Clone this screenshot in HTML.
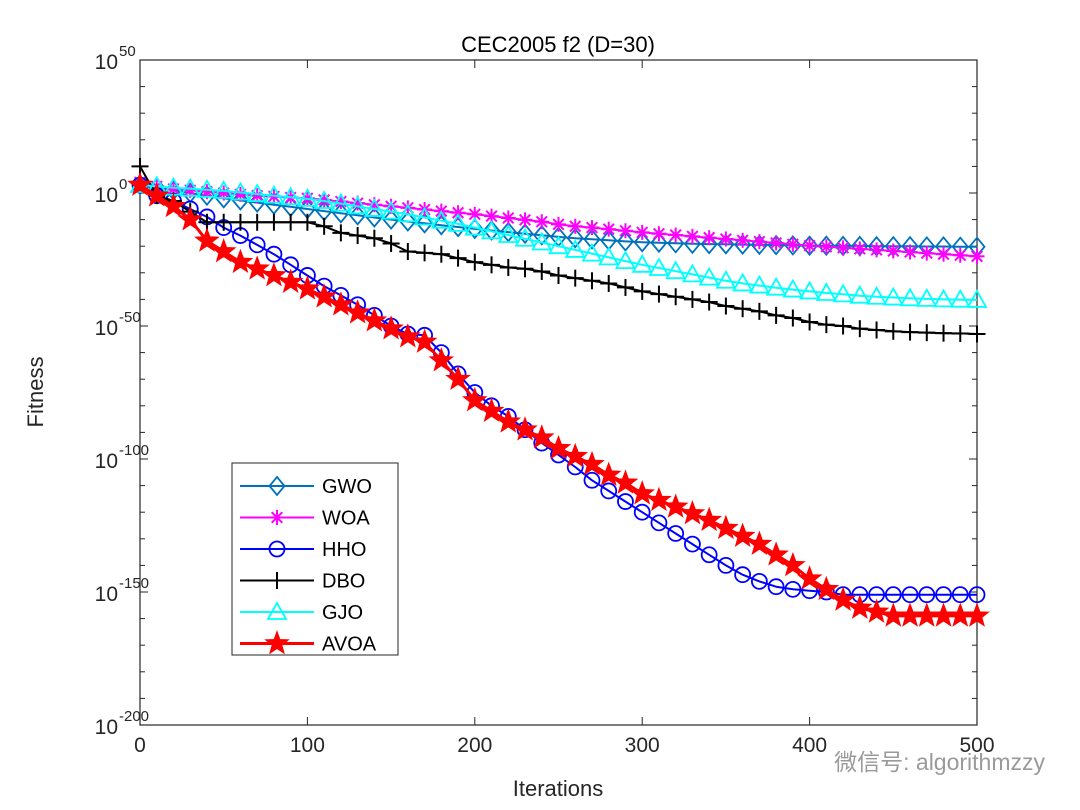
<!DOCTYPE html>
<html><head><meta charset="utf-8"><style>
html,body{margin:0;padding:0;background:#fff;}
svg{display:block;font-family:"Liberation Sans",Arial,sans-serif;}
</style></head><body>
<svg id="chart" width="1080" height="810" viewBox="0 0 1080 810">
<rect x="0" y="0" width="1080" height="810" fill="#fff"/>
<text x="558" y="52" font-size="22" text-anchor="middle" fill="#000">CEC2005 f2 (D=30)</text>
<text x="558" y="796" font-size="22" text-anchor="middle" fill="#262626">Iterations</text>
<text transform="translate(43,392) rotate(-90)" font-size="22" text-anchor="middle" fill="#262626">Fitness</text>
<g id="axes"></g>
<g id="series"></g>
<g id="legend"></g>
<text x="1045" y="770" font-size="23" text-anchor="end" fill="#9a9a9a" font-family="Liberation Sans, Noto Sans CJK SC, sans-serif">微信号: algorithmzzy</text>
</svg>
<script>
const iterations=[0,10,20,30,40,50,60,70,80,90,100,110,120,130,140,150,160,170,180,190,200,210,220,230,240,250,260,270,280,290,300,310,320,330,340,350,360,370,380,390,400,410,420,430,440,450,460,470,480,490,500];
const xTicks=[0,100,200,300,400,500];
const yTicks=[50,0,-50,-100,-150,-200];
const seriesNames=["GWO","WOA","HHO","DBO","GJO","AVOA"];
const gwo=[3,2,1,0,-1,-2,-2.8,-3.6,-4.4,-5.2,-6,-6.8,-7.6,-8.4,-9.2,-10,-10.7,-11.4,-12.1,-12.8,-13.5,-14.1,-14.7,-15.3,-15.9,-16.5,-17,-17.4,-17.8,-18.2,-18.5,-18.7,-18.9,-19.1,-19.2,-19.3,-19.4,-19.5,-19.6,-19.7,-19.8,-19.8,-19.9,-19.9,-20,-20,-20,-20.1,-20.1,-20.2,-20.2];
const woa=[4,2.5,1.5,1,0.5,0,-0.5,-1,-1.3,-1.7,-2,-2.6,-3.2,-3.8,-4.4,-5,-5.6,-6.2,-6.8,-7.4,-8,-8.7,-9.4,-10.1,-10.8,-11.8,-12.5,-13,-13.6,-14.2,-14.8,-15.3,-15.8,-16.3,-16.8,-17.3,-17.8,-18.3,-18.8,-19.3,-19.8,-20.2,-20.6,-21,-21.4,-21.8,-22.2,-22.6,-23,-23.4,-23.8];
const hho=[3,-1,-3,-6,-9,-13,-16,-19.5,-23,-27,-31,-35,-38.5,-42,-46,-50,-53,-53.5,-60,-68,-75,-80,-84,-89,-94,-98.5,-103,-108,-112,-116,-120,-124,-128,-132,-136,-140,-143.5,-146,-148,-149,-149.5,-150,-151,-151,-151,-151,-151,-151,-151,-151,-151];
const dbo=[10,-1,-3,-7,-11,-11,-11,-11,-11,-11,-11,-12.5,-15,-16,-17,-19,-22,-22.5,-23,-24.5,-26,-27,-28,-28.5,-29.5,-31,-32,-33,-34,-35.5,-37,-38,-39,-40,-41,-42.5,-43.5,-44.5,-46,-47,-48.5,-49.5,-50,-51,-51.5,-52,-52.3,-52.5,-52.7,-52.8,-53];
const gjo=[3,2.5,2,1.6,1.2,0.8,0.2,-0.4,-1,-1.6,-2.2,-3,-4,-5,-6,-7,-8,-9.2,-10.4,-11.6,-13,-14.4,-15.8,-17.2,-18.6,-20,-21.4,-22.8,-24.2,-25.6,-27,-28.2,-29.4,-30.6,-31.8,-33,-34,-34.8,-35.6,-36.3,-37,-37.6,-38.1,-38.6,-39,-39.3,-39.6,-39.8,-40,-40.1,-40.2];
const avoa=[3,-1,-5,-10,-18,-22,-26,-28.5,-31,-33.5,-36,-39,-42,-45,-48,-51,-54,-56,-63,-70,-78,-82,-86,-89,-92,-96,-99,-102,-106,-109,-113,-115.5,-118,-120.5,-123,-126,-129,-132,-136,-140,-145,-149,-153,-156,-157.5,-159,-159,-159,-159,-159,-159];

const L=140,R=977,T=60,B=725;
function xOf(v){return L+(v-0)*(R-L)/500;}
function yOf(v){return T+(50-v)*(B-T)/250;}
const NS="http://www.w3.org/2000/svg";
function mk(tag,attrs,parent){const e=document.createElementNS(NS,tag);for(const k in attrs)e.setAttribute(k,attrs[k]);parent.appendChild(e);return e;}

const axes=document.getElementById('axes');
const frame=mk('rect',{x:L,y:T,width:R-L,height:B-T,fill:'none',stroke:'#262626','stroke-width':1.2},axes);


xTicks.forEach(t=>{
  const x=xOf(t);
  mk('line',{x1:x,y1:B,x2:x,y2:B-8,stroke:'#262626'},axes);
  mk('line',{x1:x,y1:T,x2:x,y2:T+8,stroke:'#262626'},axes);
  const tx=mk('text',{x:x,y:B+27,'font-size':21,'text-anchor':'middle',fill:'#262626'},axes);
  tx.textContent=t;
  
  
});
for(let v=50;v>=-200;v-=10){
  const y=yOf(v);const len=(v%50===0)?8:5;
  mk('line',{x1:L,y1:y,x2:L+len,y2:y,stroke:'#262626'},axes);
  mk('line',{x1:R,y1:y,x2:R-len,y2:y,stroke:'#262626'},axes);
}
yTicks.forEach(t=>{
  const y=yOf(t);
  const tx=mk('text',{x:118,y:y+9,'font-size':21,'text-anchor':'end',fill:'#262626'},axes);
  tx.textContent='10';
  
  
  const sp=mk('text',{x:119,y:y-4,'font-size':15,'text-anchor':'start',fill:'#262626'},axes);
  sp.textContent=String(t);
  
  
});

function marker(type,x,y,color,g){
  if(type==='diamond'){mk('polygon',{points:`${x},${y-9} ${x+7.5},${y} ${x},${y+9} ${x-7.5},${y}`,fill:'none',stroke:color,'stroke-width':1.8},g);}
  else if(type==='asterisk'){for(const a of [0,45,90,135]){const r=a*Math.PI/180;mk('line',{x1:x-7.5*Math.cos(r),y1:y-7.5*Math.sin(r),x2:x+7.5*Math.cos(r),y2:y+7.5*Math.sin(r),stroke:color,'stroke-width':2},g);}}
  else if(type==='circle'){mk('circle',{cx:x,cy:y,r:7.5,fill:'none',stroke:color,'stroke-width':1.8},g);}
  else if(type==='plus'){mk('line',{x1:x-8.5,y1:y,x2:x+8.5,y2:y,stroke:color,'stroke-width':2},g);mk('line',{x1:x,y1:y-8.5,x2:x,y2:y+8.5,stroke:color,'stroke-width':2},g);}
  else if(type==='triangle'){mk('polygon',{points:`${x},${y-9} ${x+9},${y+7} ${x-9},${y+7}`,fill:'none',stroke:color,'stroke-width':1.8},g);}
  else if(type==='star'){let p=[];for(let i=0;i<10;i++){const r=(i%2===0)?12:5;const a=-Math.PI/2+i*Math.PI/5;p.push((x+r*Math.cos(a)).toFixed(1)+','+(y+r*Math.sin(a)).toFixed(1));}mk('polygon',{points:p.join(' '),fill:color,stroke:color,'stroke-width':1},g);}
}
const cfg=[
 {data:gwo,color:'#0072BD',m:'diamond',w:2,name:'series-gwo'},
 {data:woa,color:'#FF00FF',m:'asterisk',w:2,name:'series-woa'},
 {data:hho,color:'#0000FF',m:'circle',w:2,name:'series-hho'},
 {data:dbo,color:'#000000',m:'plus',w:2,name:'series-dbo'},
 {data:gjo,color:'#00FFFF',m:'triangle',w:2,name:'series-gjo'},
 {data:avoa,color:'#FF0000',m:'star',w:3,name:'series-avoa'}
];
const sg=document.getElementById('series');
cfg.forEach(c=>{
  const g=mk('g',{},sg);
  
  
  const pts=c.data.map((v,i)=>xOf(iterations[i]).toFixed(1)+','+yOf(v).toFixed(1)).join(' ');
  mk('polyline',{points:pts,fill:'none',stroke:c.color,'stroke-width':c.w,'stroke-linejoin':'round'},g);
  c.data.forEach((v,i)=>marker(c.m,xOf(iterations[i]),yOf(v),c.color,g));
});

const lg=document.getElementById('legend');
const box=mk('rect',{x:232,y:463,width:166,height:192,fill:'#fff',stroke:'#262626','stroke-width':1},lg);


cfg.forEach((c,i)=>{
  const y=486+i*31.5;
  const g=mk('g',{},lg);
  
  
  mk('line',{x1:240,y1:y,x2:314,y2:y,stroke:c.color,'stroke-width':c.w},g);
  marker(c.m,277,y,c.color,g);
  const t=mk('text',{x:322,y:y+7,'font-size':20,fill:'#000'},g);
  t.textContent=seriesNames[i];
});
</script>
</body></html>
